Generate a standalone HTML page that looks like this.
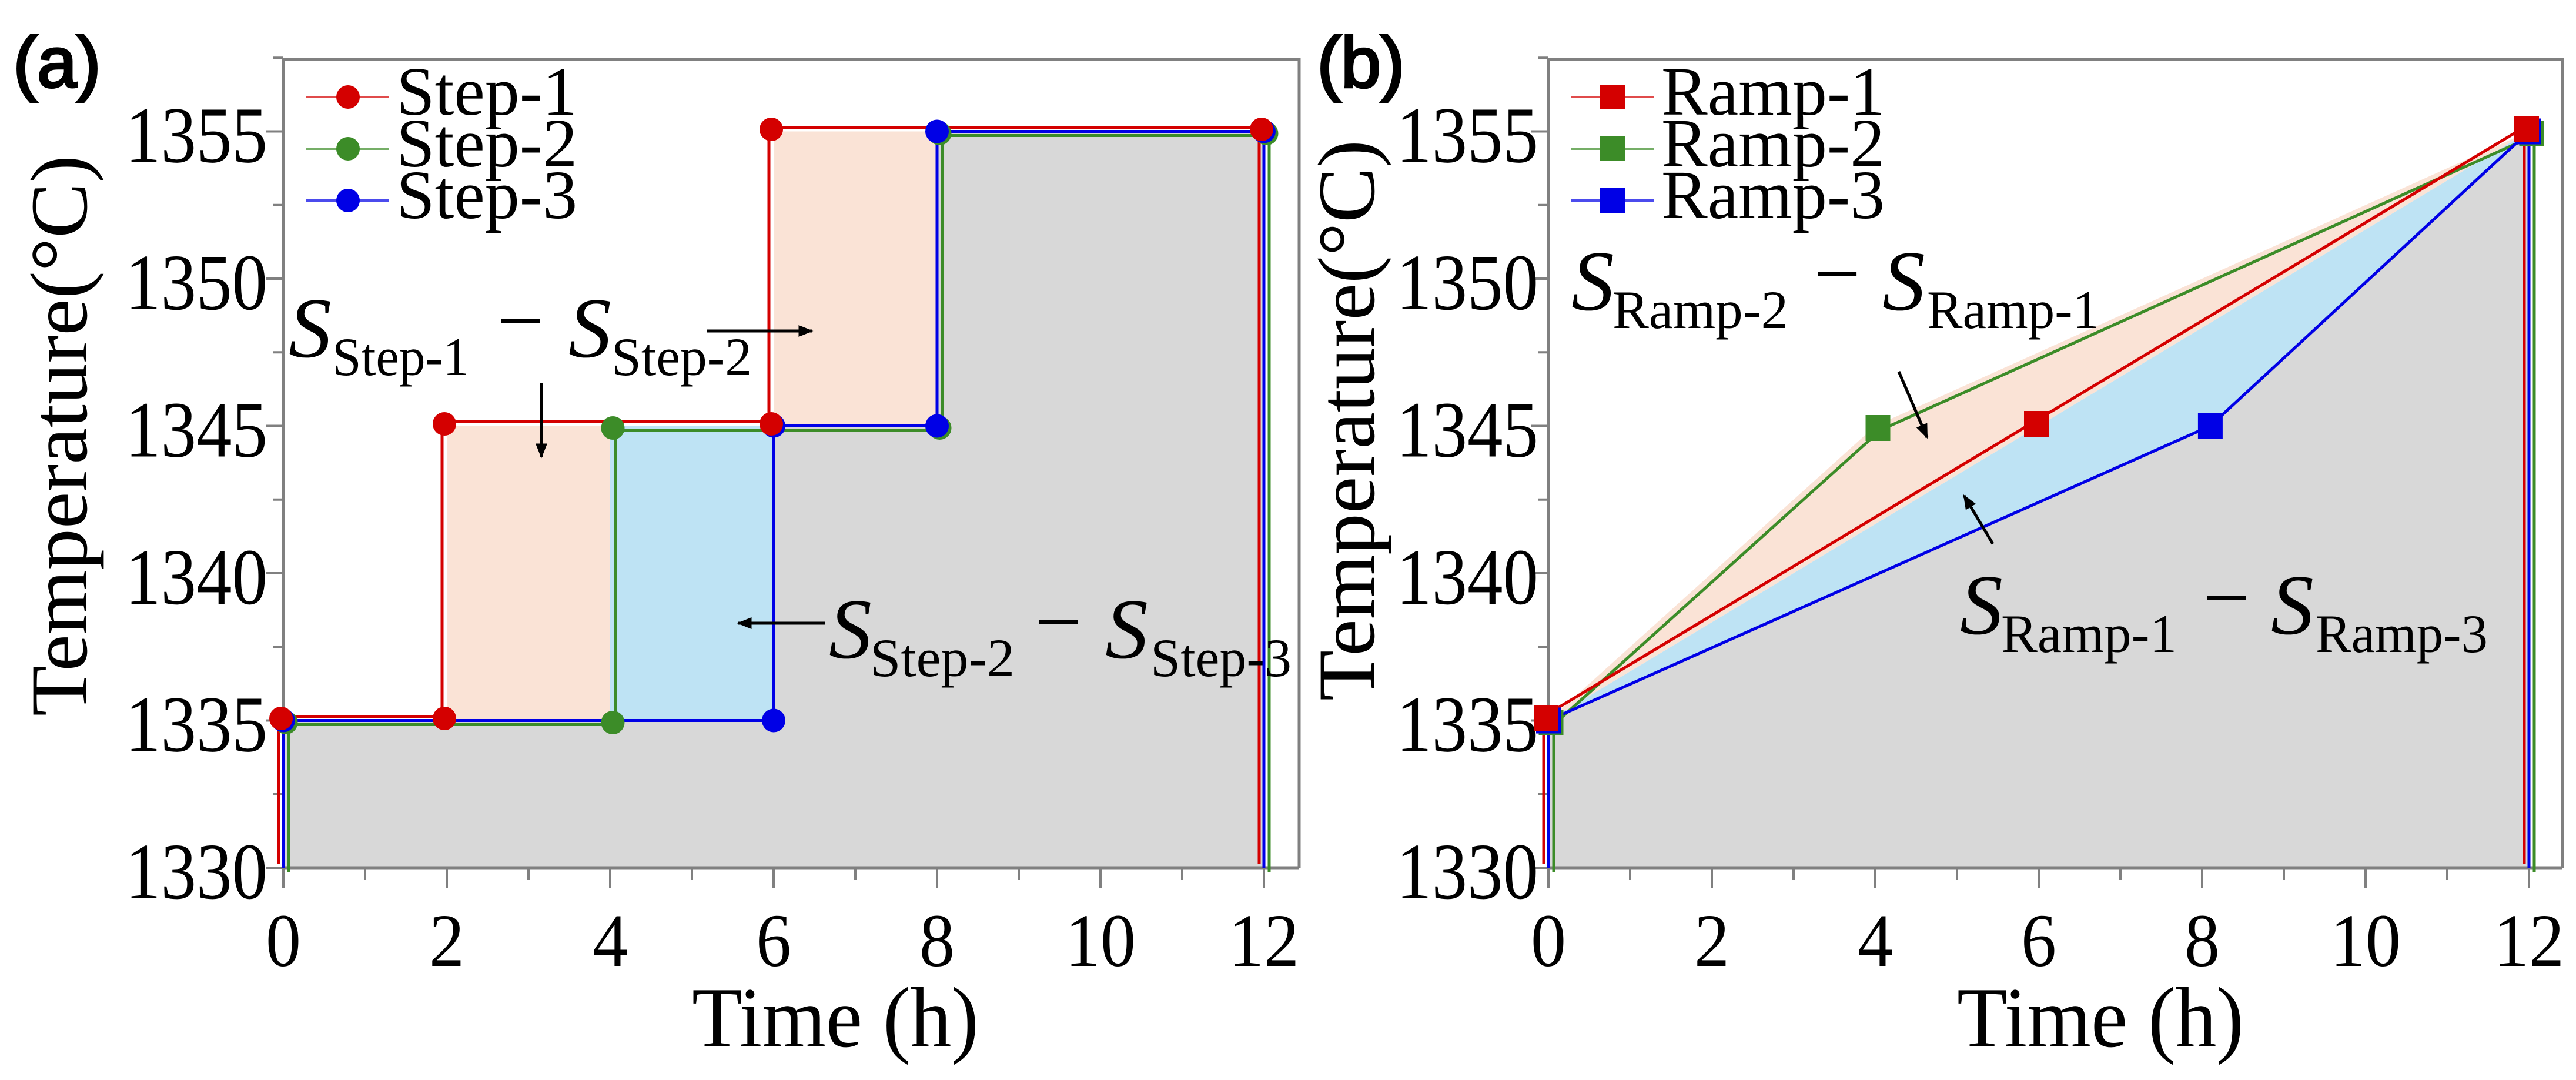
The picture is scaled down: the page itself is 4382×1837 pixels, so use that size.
<!DOCTYPE html>
<html><head><meta charset="utf-8">
<style>
html,body{margin:0;padding:0;background:#fff;}
svg{display:block;}
text{font-family:"Liberation Serif","Times New Roman",serif;fill:#000;}
</style></head>
<body>
<svg id="fig" width="4382" height="1837" viewBox="0 0 4382 1837" xmlns="http://www.w3.org/2000/svg">
<defs>
<marker id="ah" viewBox="0 0 10 10" refX="9" refY="5" markerWidth="5" markerHeight="5" orient="auto-start-reverse"><path d="M0,1 L10,5 L0,9 Z" fill="#000"/></marker>
</defs>
<g id="panelA"></g>
<g id="panelB"></g>
</svg>
<script>
// ---- data ----
const xTicks = [0, 2, 4, 6, 8, 10, 12];
const yTicks = [1330, 1335, 1340, 1345, 1350, 1355];
const stepNames = ["Step-1", "Step-2", "Step-3"];
const step1Times = [0, 2, 6, 12];
const step1Temps = [1335, 1345, 1355];
const step2Times = [0, 4, 8, 12];
const step2Temps = [1335, 1345, 1355];
const step3Times = [0, 6, 8, 12];
const step3Temps = [1335, 1345, 1355];
const rampNames = ["Ramp-1", "Ramp-2", "Ramp-3"];
const ramp1Times = [0, 6, 12];
const ramp1Temps = [1335, 1345, 1355];
const ramp2Times = [0, 4, 12];
const ramp2Temps = [1335, 1345, 1355];
const ramp3Times = [0, 8.1, 12];
const ramp3Temps = [1335, 1345, 1355];

const NS = "http://www.w3.org/2000/svg";
const COL = {red: "#d40000", green: "#3c8c28", blue: "#0000e6"};
const FILL = {peach: "#fae3d6", sky: "#bee3f4", gray: "#d8d8d8"};
const OFF = {red: [-8, -7], green: [9, 7], blue: [0, 0]};

function mk(parent, tag, attrs, txt) {
  const e = document.createElementNS(NS, tag);
  for (const k in attrs) e.setAttribute(k, attrs[k]);
  if (txt !== undefined) e.textContent = txt;
  parent.appendChild(e);
  return e;
}

function axes(x0, right, top) {
  const pxH = 139, y0 = 1476, pxT = 50.1;
  return {
    x: t => x0 + t * pxH,
    y: T => y0 - (T - 1330) * pxT,
    x0, right, top, bottom: y0
  };
}

function stepPts(times, temps) {
  const p = [[times[0], 1330]];
  for (let i = 0; i < temps.length; i++) {
    p.push([times[i], temps[i]]);
    p.push([times[i + 1], temps[i]]);
  }
  p.push([times[times.length - 1], 1330]);
  return p;
}
function rampPts(times, temps) {
  const p = [[times[0], 1330]];
  for (let i = 0; i < times.length; i++) p.push([times[i], temps[i]]);
  p.push([times[times.length - 1], 1330]);
  return p;
}

function drawPanel(g, ax, series, fillOrder, markerShape, yLabelX, yLabelCY, tickGap, letter, letterX) {
  const X = ax.x, Y = ax.y;
  const fillPoly = (top, bot, color, name) => {
    const pts = top.concat(bot ? bot.slice().reverse() : []).map(p => X(p[0]) + "," + Y(p[1])).join(" ");
    const e = mk(g, "polygon", {points: pts, fill: color, stroke: "none"});
    
    
  };
  fillPoly(series[fillOrder[2]].pts, null, FILL.gray, "area-under-lowest");
  fillPoly(series[fillOrder[0]].pts, series[fillOrder[1]].pts, FILL.peach, "area-difference-upper");
  fillPoly(series[fillOrder[1]].pts, series[fillOrder[2]].pts, FILL.sky, "area-difference-lower");

  const fr = mk(g, "path", {d: `M${ax.x0},${ax.top} H${ax.right} V${ax.bottom} M${ax.x0},${ax.top} V${ax.bottom} H${ax.right}`, fill: "none", stroke: "#808080", "stroke-width": 5});
  
  

  for (let t = 0; t <= 12; t++) {
    const major = t % 2 === 0;
    const tk = mk(g, "line", {x1: X(t), x2: X(t), y1: ax.bottom, y2: ax.bottom + (major ? 34 : 21), stroke: "#808080", "stroke-width": 4});
    
    
  }
  for (let T = 1330; T <= 1357.5; T += 2.5) {
    const major = (T % 5) === 0;
    const tk = mk(g, "line", {x1: ax.x0, x2: ax.x0 - (major ? 30 : 18), y1: Y(T), y2: Y(T), stroke: "#808080", "stroke-width": 4});
    
    
  }
  xTicks.forEach(t => {
    const s = String(t);
    const e = mk(g, "text", {x: X(t), y: 1643, "font-size": 128, "text-anchor": "middle", textLength: 60 * s.length, lengthAdjust: "spacingAndGlyphs"}, s);
    
    
  });
  yTicks.forEach(T => {
    const e = mk(g, "text", {x: ax.x0 - tickGap, y: Y(T) + 52, "font-size": 136, "text-anchor": "end", textLength: 242, lengthAdjust: "spacingAndGlyphs"}, String(T));
    
    
  });
  const xl = mk(g, "text", {x: (ax.x0 + X(12)) / 2 + 105, y: 1780, "font-size": 146, "text-anchor": "middle", textLength: 488, lengthAdjust: "spacingAndGlyphs"}, "Time (h)");
  
  
  const yl = mk(g, "text", {x: 0, y: 0, "font-size": 138, "text-anchor": "middle", textLength: 954, lengthAdjust: "spacingAndGlyphs", transform: `translate(${yLabelX},${yLabelCY}) rotate(-90)`}, "Temperature(°C)");
  
  

  ["green", "blue", "red"].forEach(c => {
    const s = series.find(q => q.color === c);
    const o = OFF[c];
    const d = s.pts.map((p, i) => (i ? "L" : "M") + (X(p[0]) + o[0]) + "," + (Y(p[1]) + o[1])).join(" ");
    const e = mk(g, "path", {d, fill: "none", stroke: COL[c], "stroke-width": 5, "stroke-linejoin": "miter"});
    
    
  });
  ["green", "blue", "red"].forEach(c => {
    const s = series.find(q => q.color === c);
    const o = OFF[c];
    s.pts.slice(1, -1).forEach(p => {
      const cx = X(p[0]) + o[0] * 0.5, cy = Y(p[1]) + o[1] * 0.5;
      let e;
      if (markerShape === "circle") e = mk(g, "circle", {cx, cy, r: 20, fill: COL[c]});
      else e = mk(g, "rect", {x: cx - 21, y: cy - 22, width: 42, height: 44, fill: COL[c]});
      
      
    });
  });

  const rows = [165, 253, 341];
  const lx = ax.x0;
  series.forEach((s, i) => {
    const lg = mk(g, "g", {});
    
    
    const ly = rows[i];
    mk(lg, "line", {x1: lx + 38, x2: lx + 180, y1: ly, y2: ly, stroke: COL[s.color], "stroke-width": 4, opacity: 0.7});
    if (markerShape === "circle") mk(lg, "circle", {cx: lx + 110, cy: ly, r: 20, fill: COL[s.color]});
    else mk(lg, "rect", {x: lx + 88, y: ly - 21, width: 42, height: 42, fill: COL[s.color]});
    mk(lg, "text", {x: lx + 192, y: ly + 30, "font-size": 118}, s.name);
  });

  const pl = mk(g, "text", {x: letterX, y: 148, "font-size": 122, "text-anchor": "middle", fill: "#fff", stroke: "#000", "stroke-width": 4, style: "font-family:'Liberation Sans',sans-serif"}, "(" + letter + ")");
  
  
}

function annotation(g, name, parts) {
  const a = mk(g, "g", {});
  
  
  const [sx, subX, subW, subT, mX, s2x, sub2X, sub2W, sub2T, base] = parts;
  mk(a, "text", {x: sx, y: base, "font-size": 146, "font-style": "italic"}, "S");
  mk(a, "text", {x: subX, y: base + 31, "font-size": 92, textLength: subW, lengthAdjust: "spacingAndGlyphs"}, subT);
  mk(a, "text", {x: mX, y: base - 14, "font-size": 142, "text-anchor": "middle"}, "−");
  mk(a, "text", {x: s2x, y: base, "font-size": 146, "font-style": "italic"}, "S");
  mk(a, "text", {x: sub2X, y: base + 31, "font-size": 92, textLength: sub2W, lengthAdjust: "spacingAndGlyphs"}, sub2T);
}
function arrow(g, x1, y1, x2, y2) {
  const e = mk(g, "line", {x1, y1, x2, y2, stroke: "#000", "stroke-width": 5, "marker-end": "url(#ah)"});
  
  
}

const gA = document.getElementById("panelA");
const axA = axes(482, 2210, 101);
const serA = [
  {name: stepNames[0], color: "red", pts: stepPts(step1Times, step1Temps)},
  {name: stepNames[1], color: "green", pts: stepPts(step2Times, step2Temps)},
  {name: stepNames[2], color: "blue", pts: stepPts(step3Times, step3Temps)}
];
drawPanel(gA, axA, serA, [0, 1, 2], "circle", 147, 741, 27, "a", 97);
annotation(gA, "annotation-step1-minus-step2", [491, 565, 233, "Step-1", 885, 967, 1040, 239, "Step-2", 607]);
annotation(gA, "annotation-step2-minus-step3", [1410, 1480, 246, "Step-2", 1800, 1880, 1957, 240, "Step-3", 1119]);
arrow(gA, 1203, 563, 1381, 563);
arrow(gA, 921, 652, 921, 777);
arrow(gA, 1403, 1060, 1256, 1060);

const gB = document.getElementById("panelB");
const axB = axes(2634, 4359, 101);
const serB = [
  {name: rampNames[0], color: "red", pts: rampPts(ramp1Times, ramp1Temps)},
  {name: rampNames[1], color: "green", pts: rampPts(ramp2Times, ramp2Temps)},
  {name: rampNames[2], color: "blue", pts: rampPts(ramp3Times, ramp3Temps)}
];
drawPanel(gB, axB, serB, [1, 0, 2], "square", 2337, 715, 17, "b", 2315);
annotation(gB, "annotation-ramp2-minus-ramp1", [2673, 2743, 299, "Ramp-2", 3125, 3202, 3278, 293, "Ramp-1", 527]);
annotation(gB, "annotation-ramp1-minus-ramp3", [3334, 3404, 299, "Ramp-1", 3787, 3863, 3939, 293, "Ramp-3", 1078]);
arrow(gB, 3230, 632, 3278, 744);
arrow(gB, 3390, 925, 3341, 843);
</script>
</body></html>
